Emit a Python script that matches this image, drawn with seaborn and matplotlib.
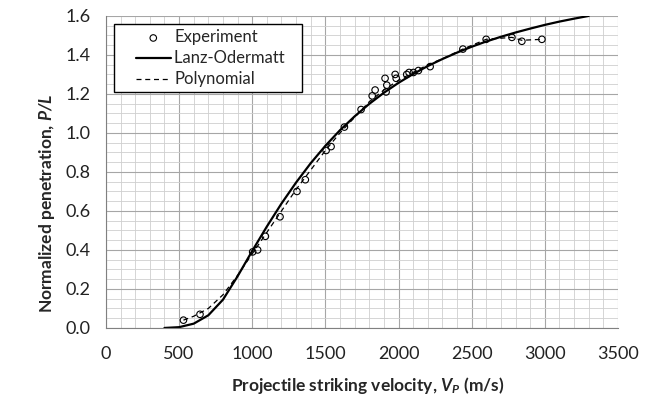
import numpy as np
import matplotlib
matplotlib.use("Agg")
import matplotlib.pyplot as plt
import seaborn as sns
from matplotlib.ticker import MultipleLocator
from matplotlib.legend_handler import HandlerLine2D, HandlerPathCollection
from matplotlib.lines import Line2D
from matplotlib.collections import PathCollection

# experiment points
exp_v = [530, 643, 1003, 1037, 1090, 1190, 1306, 1363, 1505, 1539, 1630, 1744,
         1820, 1840, 1908, 1915, 1920, 1977, 1984, 2056, 2072, 2102, 2136, 2216,
         2440, 2599, 2775, 2843, 2980]
exp_pl = [0.04, 0.07, 0.39, 0.40, 0.47, 0.57, 0.70, 0.76, 0.91, 0.93, 1.03, 1.12,
          1.19, 1.22, 1.28, 1.21, 1.245, 1.30, 1.28, 1.30, 1.31, 1.31, 1.32, 1.34,
          1.43, 1.48, 1.49, 1.47, 1.48]

# Lanz-Odermatt curve
lo_v = [400, 500, 600, 700, 800, 900, 1000, 1100, 1200, 1300, 1400, 1500, 1600,
        1700, 1800, 1900, 2000, 2100, 2200, 2300, 2400, 2500, 2600, 2700, 2800,
        2900, 3000, 3100, 3200, 3300]
lo_pl = [0.0, 0.004, 0.022, 0.065, 0.145, 0.265, 0.395, 0.52, 0.638, 0.746, 0.845,
         0.934, 1.014, 1.085, 1.149, 1.206, 1.257, 1.302, 1.343, 1.379, 1.412,
         1.442, 1.469, 1.493, 1.515, 1.535, 1.554, 1.571, 1.586, 1.600]

# polynomial (dashed)
poly_v = [530, 600, 700, 800, 900, 1000, 1100, 1200, 1300, 1400, 1500, 1600,
          1700, 1800, 1900, 2000, 2100, 2200, 2300, 2440, 2599, 2775, 2843, 2980]
poly_pl = [0.04, 0.06, 0.10, 0.17, 0.27, 0.38, 0.49, 0.60, 0.71, 0.81, 0.91, 1.00,
           1.08, 1.16, 1.22, 1.27, 1.31, 1.35, 1.38, 1.43, 1.48, 1.49, 1.475, 1.48]

sns.set_style("white")
plt.rcParams['font.family'] = ['Lato', 'DejaVu Sans']
plt.rcParams['mathtext.fontset'] = 'custom'
plt.rcParams['mathtext.rm'] = 'Lato'
plt.rcParams['mathtext.it'] = 'Lato:italic'
plt.rcParams['mathtext.bf'] = 'Lato:bold'
plt.rcParams['mathtext.bfit'] = 'Lato:italic:bold'

fig = plt.figure(figsize=(6.62, 3.98), dpi=100)
ax = fig.add_axes([0.160, 0.176, 0.7735, 0.784])

ax.set_xlim(0, 3500)
ax.set_ylim(0, 1.6)
ax.xaxis.set_major_locator(MultipleLocator(500))
ax.xaxis.set_minor_locator(MultipleLocator(100))
ax.yaxis.set_major_locator(MultipleLocator(0.2))
ax.yaxis.set_minor_locator(MultipleLocator(0.05))
ax.grid(which='major', color='#a6a6a6', lw=0.8)
ax.grid(which='minor', color='#cfcfcf', lw=0.6)
ax.set_axisbelow(True)

sns.lineplot(x=lo_v, y=lo_pl, ax=ax, color='black', lw=1.6, sort=False,
             label='Lanz-Odermatt')
sns.lineplot(x=poly_v, y=poly_pl, ax=ax, color='black', lw=0.9, sort=False,
             dashes=False, label='Polynomial', linestyle=(0, (4, 3)))
sns.scatterplot(x=exp_v, y=exp_pl, ax=ax, marker='o', s=22, facecolor='none',
                edgecolor='black', linewidth=0.8, label='Experiment', zorder=3)

for s in ['top', 'right']:
    ax.spines[s].set_visible(False)
for s in ['left', 'bottom']:
    ax.spines[s].set_color('#808080')
    ax.spines[s].set_linewidth(0.8)
ax.tick_params(which='major', direction='out', length=4, color='#808080',
               labelsize=13, labelcolor='#222222')
ax.tick_params(axis='x', pad=9)
ax.tick_params(axis='y', pad=7)
ax.tick_params(which='minor', length=0)
ax.yaxis.set_major_formatter(matplotlib.ticker.FormatStrFormatter('%.1f'))

ax.set_xlabel(r'Projectile striking velocity, $\mathbfit{V}_{\mathbfit{P}}$ (m/s)',
              fontsize=12.5, fontweight='bold', labelpad=9)
ax.set_ylabel(r'Normalized penetration, $\mathbfit{P/L}$',
              fontsize=12.5, fontweight='bold', labelpad=6)
ax.xaxis.label.set_x(0.512)
ax.yaxis.label.set_y(0.40)

h, l = ax.get_legend_handles_labels()
order = [l.index('Experiment'), l.index('Lanz-Odermatt'), l.index('Polynomial')]
leg = ax.legend([h[i] for i in order],
                ['Experiment', 'Lanz-Odermatt   ', 'Polynomial'],
                loc='upper left', bbox_to_anchor=(0.016, 0.973), borderaxespad=0,
                fontsize=12, frameon=True, fancybox=False, framealpha=1,
                edgecolor='black', handlelength=3.1, borderpad=0.3,
                labelspacing=0.3, handletextpad=0.2,
                handler_map={Line2D: HandlerLine2D(xpad=1.0),
                             PathCollection: HandlerPathCollection(xpad=1.0)})
leg.get_frame().set_linewidth(1.0)

fig.savefig('out.png', dpi=100)
